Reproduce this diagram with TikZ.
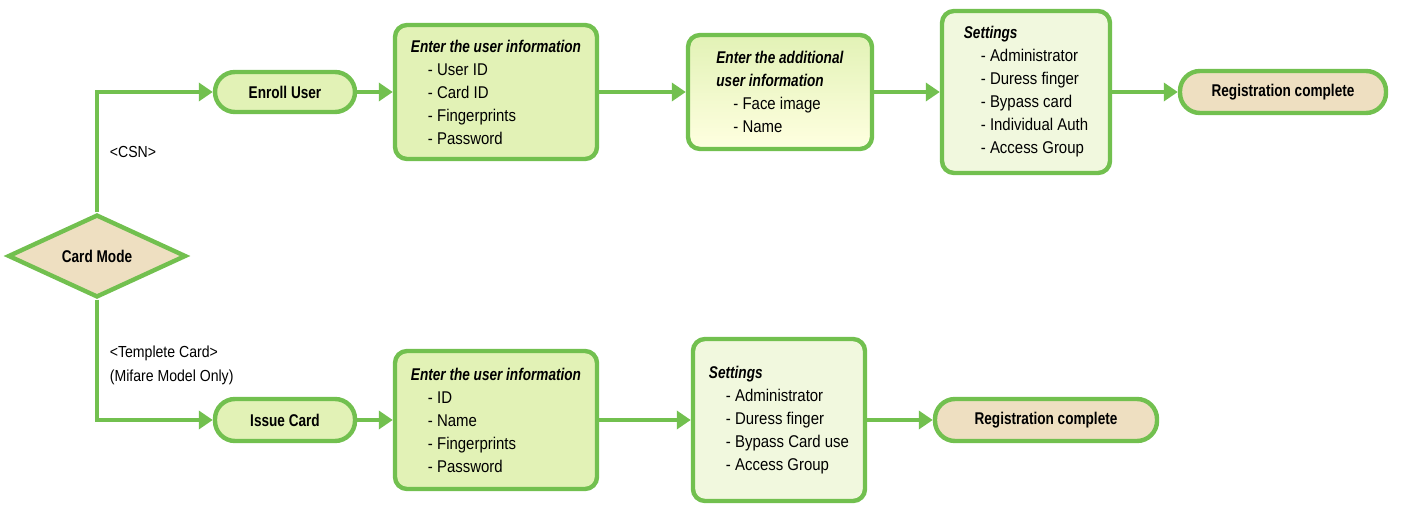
\documentclass[tikz,border=0pt]{standalone}
\usepackage{fontspec}
\setmainfont[FakeStretch=0.88,BoldFeatures={FakeStretch=0.8},BoldItalicFeatures={FakeStretch=0.8}]{Liberation Sans}
\usetikzlibrary{shapes.geometric,arrows.meta}
\definecolor{edge}{HTML}{72C04F}
\definecolor{leaf}{HTML}{E2F2B6}
\definecolor{pale}{HTML}{F1F8DE}
\definecolor{sand}{HTML}{EEDFC1}
\tikzset{
  flow/.style={draw=edge,line width=2.2pt,-{Triangle[length=7pt,width=9pt]}},
  pill/.style={draw=edge,line width=2.2pt,rounded corners=10pt,fill=leaf,font=\fontsize{8.5}{10}\selectfont\bfseries},
  infobox/.style={draw=edge,line width=2.2pt,rounded corners=6pt,align=left,font=\fontsize{8.5}{11.5}\selectfont,inner xsep=8pt},
  done/.style={pill,fill=sand},
}
\newcommand{\head}[1]{\textbf{\textit{#1}}}
\begin{document}
\begin{tikzpicture}[x=0.5pt,y=-0.5pt]
\useasboundingbox (0,0) rectangle (1407,507);
% decision
\node[diamond,draw=edge,line width=2.2pt,fill=sand,minimum width=89pt,minimum height=34pt,inner sep=0pt,
  font=\fontsize{8.5}{10}\selectfont\bfseries] (mode) at (97,256) {Card Mode};
\coordinate (up) at (97,92);
\coordinate (down) at (97,420);
% upper row
\node[pill,minimum width=70pt,minimum height=20pt] (enroll) at (285,92) {Enroll User};
\node[infobox,fill=leaf,minimum width=99pt,minimum height=67pt] (info) at (496,92)
  {\head{Enter the user information}\\\quad- User ID\\\quad- Card ID\\\quad- Fingerprints\\\quad- Password};
\node[infobox,top color=leaf,bottom color=yellow!12,minimum width=92pt,minimum height=57pt] (extra) at (780,92)
  {\head{Enter the additional}\\\head{user information}\\\quad- Face image\\\quad- Name};
\node[infobox,fill=pale,minimum width=84pt,minimum height=81pt] (set) at (1026,92)
  {\head{Settings}\\\quad- Administrator\\\quad- Duress finger\\\quad- Bypass card\\\quad- Individual Auth\\\quad- Access Group};
\node[done,minimum width=103pt,minimum height=21pt] (regA) at (1283,92) {Registration complete};
% lower row
\node[pill,minimum width=70pt,minimum height=21pt] (issue) at (285,420) {Issue Card};
\node[infobox,fill=leaf,minimum width=99pt,minimum height=69pt] (infoB) at (496,420)
  {\head{Enter the user information}\\\quad- ID\\\quad- Name\\\quad- Fingerprints\\\quad- Password};
\node[infobox,fill=pale,minimum width=84pt,minimum height=81pt] (setB) at (779,420)
  {\head{Settings}\\\quad- Administrator\\\quad- Duress finger\\\quad- Bypass Card use\\\quad- Access Group};
\node[done,minimum width=111pt,minimum height=21pt] (regB) at (1046,420) {Registration complete};
% connectors
\draw[flow] (mode.north) -- node[pos=0.5,right=2pt,font=\fontsize{8}{10}\selectfont]{<CSN>} (up) -- (enroll);
\draw[flow] (mode.south) -- node[pos=0.55,right=2pt,align=left,font=\fontsize{8}{12}\selectfont]{<Templete Card>\\(Mifare Model Only)} (down) -- (issue);
\draw[flow] (enroll) -- (info);
\draw[flow] (info) -- (extra);
\draw[flow] (extra) -- (set);
\draw[flow] (set) -- (regA);
\draw[flow] (issue) -- (infoB);
\draw[flow] (infoB) -- (setB);
\draw[flow] (setB) -- (regB);
\end{tikzpicture}
\end{document}
